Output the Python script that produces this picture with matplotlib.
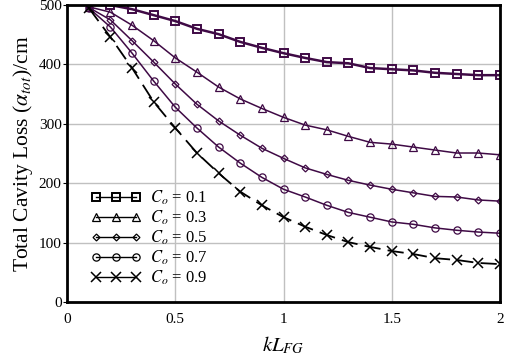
import matplotlib
matplotlib.use('Agg')
import matplotlib.pyplot as plt

plt.rcParams['font.family'] = ['Liberation Serif', 'DejaVu Serif']
plt.rcParams['mathtext.fontset'] = 'stix'

# kL_FG sample points
kl = [0.1, 0.2, 0.3, 0.4, 0.5, 0.6, 0.7, 0.8, 0.9, 1.0,
      1.1, 1.2, 1.3, 1.4, 1.5, 1.6, 1.7, 1.8, 1.9, 2.0]

# total cavity loss for each Co
loss_01 = [510, 500, 493, 483, 473, 460, 451, 438, 428, 419,
           411, 404, 402, 394, 392, 390, 386, 384, 382, 382]
loss_03 = [497, 488, 466, 440, 411, 387, 362, 342, 326, 311,
           298, 290, 279, 269, 266, 261, 256, 251, 251, 248]
loss_05 = [496, 475, 440, 404, 367, 333, 305, 281, 259, 242,
           226, 215, 205, 197, 190, 184, 178, 177, 172, 170]
loss_07 = [495, 463, 419, 372, 328, 293, 261, 234, 210, 190,
           177, 163, 151, 143, 135, 131, 125, 121, 118, 116]
loss_09 = [495, 446, 394, 337, 293, 251, 217, 186, 163, 143,
           127, 113, 101, 93, 86, 81, 74, 71, 66, 64]

labels = ['$C_o$ = 0.1', '$C_o$ = 0.3', '$C_o$ = 0.5', '$C_o$ = 0.7', '$C_o$ = 0.9']

purple = '#3f0a45'

fig = plt.figure(figsize=(5.09, 3.61), dpi=100)
ax = fig.add_axes([0.132, 0.163, 0.850, 0.823])

ax.plot(kl, loss_01, color=purple, lw=1.8, marker='s', ms=5.5, mfc='none', mew=1.4,
        label=labels[0])
ax.plot(kl, loss_03, color=purple, lw=1.1, marker='^', ms=5.5, mfc='none', mew=0.9,
        label=labels[1])
ax.plot(kl, loss_05, color=purple, lw=1.1, marker='D', ms=3.5, mfc='none', mew=0.9,
        label=labels[2])
ax.plot(kl, loss_07, color=purple, lw=1.1, marker='o', ms=5.2, mfc='none', mew=0.9,
        label=labels[3])
ax.plot(kl, loss_09, color='black', lw=1.3, ls=(0, (9, 4)), marker='x', ms=6.5, mew=1.1,
        label=labels[4])

ax.set_xlim(0, 2)
ax.set_ylim(0, 500)
ax.set_xticks([0, 0.5, 1, 1.5, 2])
ax.set_xticklabels(['0', '0.5', '1', '1.5', '2'])
ax.set_yticks([0, 100, 200, 300, 400, 500])
ax.grid(True, color='#c0c0c0', lw=1.0)
ax.set_axisbelow(True)
for s in ax.spines.values():
    s.set_linewidth(2.0)
    s.set_color('black')
ax.tick_params(axis='x', length=0, labelsize=11, pad=8)
ax.tick_params(axis='y', length=3, labelsize=11, pad=1)

ax.set_xlabel('$kL_{FG}$', fontsize=15, labelpad=6)
ax.set_ylabel(r'Total Cavity Loss ($\alpha_{tot}$)/cm', fontsize=15.5, labelpad=3)

leg = ax.legend(loc='lower left', bbox_to_anchor=(0.02, 0.0), frameon=False,
                numpoints=3, handlelength=3.0, fontsize=12, labelspacing=0.1,
                handletextpad=0.55)
for h in leg.legend_handles:
    h.set_color('black')
    h.set_linestyle('-')
    h.set_linewidth(1.0)

fig.savefig('out.png', dpi=100)
